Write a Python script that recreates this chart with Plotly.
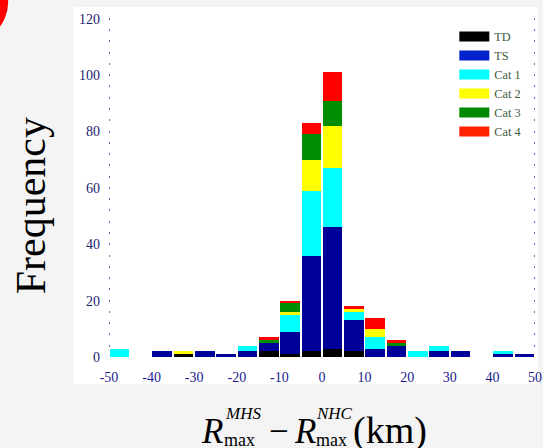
import plotly.graph_objects as go

# ---------------- data ----------------
bin_centers = [-47.5, -42.5, -37.5, -32.5, -27.5, -22.5, -17.5, -12.5, -7.5, -2.5,
               2.5, 7.5, 12.5, 17.5, 22.5, 27.5, 32.5, 37.5, 42.5, 47.5]
td   = [0, 0, 0, 1, 0, 0, 0, 2, 1, 2, 3, 2, 0, 0, 0, 0, 0, 0, 0, 0]
ts   = [0, 0, 2, 0, 2, 1, 2, 3, 8, 34, 43, 11, 3, 4, 0, 2, 2, 0, 1, 1]
cat1 = [3, 0, 0, 0, 0, 0, 2, 0, 6, 23, 21, 3, 4, 0, 2, 2, 0, 0, 1, 0]
cat2 = [0, 0, 0, 1, 0, 0, 0, 0, 1, 11, 15, 1, 3, 0, 0, 0, 0, 0, 0, 0]
cat3 = [0, 0, 0, 0, 0, 0, 0, 1, 3, 9, 9, 0, 0, 1, 0, 0, 0, 0, 0, 0]
cat4 = [0, 0, 0, 0, 0, 0, 0, 1, 1, 4, 10, 1, 4, 1, 0, 0, 0, 0, 0, 0]

series_names = ["TD", "TS", "Cat 1", "Cat 2", "Cat 3", "Cat 4"]
x_tick_vals = [-50, -40, -30, -20, -10, 0, 10, 20, 30, 40, 50]
x_tick_text = ["-50", "-40", "-30", "-20", "-10", "0", "10", "20", "30", "40", "50"]
y_tick_vals = [0, 20, 40, 60, 80, 100, 120]
y_tick_text = ["0", "20", "40", "60", "80", "100", "120"]

# ---------------- style ----------------
W, H = 543, 448
ML, MR, MT, MB = 109, 1, 16, 91
bar_colors = ["#000000", "#000099", "#00ffff", "#ffff00", "#008c00", "#ff0000"]
legend_colors = ["#000000", "#0022cc", "#00ffff", "#ffff00", "#008800", "#ff2200"]
SERIF = "Liberation Serif, Times New Roman, serif"


def px2x(px):
    return (px - ML) / (W - ML - MR)


def py2y(py):
    return (H - MB - py) / (H - MT - MB)


fig = go.Figure()
for name, vals, col in zip(series_names, [td, ts, cat1, cat2, cat3, cat4], bar_colors):
    fig.add_trace(go.Bar(x=bin_centers, y=vals, name=name, marker=dict(color=col, line=dict(width=0)),
                         width=4.6, showlegend=False))
for name, col in zip(series_names, legend_colors):
    fig.add_trace(go.Scatter(x=[None], y=[None], mode="lines", name=name,
                             line=dict(color=col, width=12)))

fig.update_layout(
    width=W, height=H,
    margin=dict(l=ML, r=MR, t=MT, b=MB, pad=0),
    paper_bgcolor="#f4f4f4", plot_bgcolor="#ffffff",
    barmode="stack",
    showlegend=True,
    legend=dict(x=px2x(460), y=py2y(22), xanchor="left", yanchor="top",
                bgcolor="rgba(0,0,0,0)", traceorder="normal", itemwidth=30,
                font=dict(family=SERIF, size=12.3, color="#3d5c3d")),
    xaxis=dict(range=[-50, 50], tickvals=x_tick_vals, ticktext=x_tick_text,
               showgrid=False, zeroline=False, showline=False, ticks="",
               ticklabelstandoff=10, ticklabeloverflow="allow",
               tickfont=dict(family=SERIF, size=14, color="#1a1a8c")),
    yaxis=dict(range=[0, 121], tickvals=y_tick_vals, ticktext=y_tick_text,
               showgrid=False, zeroline=False, showline=False,
               ticks="inside", ticklen=1, tickwidth=2, tickcolor="#6a6acc",
               mirror="allticks",
               minor=dict(dtick=4, tick0=0, ticks="inside", ticklen=1, tickwidth=2,
                          tickcolor="#6a6acc"),
               ticklabelstandoff=8,
               tickfont=dict(family=SERIF, size=14, color="#1c1c6e")),
    shapes=[
        dict(type="rect", xref="paper", yref="paper", layer="below",
             x0=px2x(73), x1=px2x(545), y0=py2y(384), y1=py2y(7),
             fillcolor="#ffffff", line=dict(width=0)),
        dict(type="circle", xref="paper", yref="paper",
             x0=px2x(-74.5), x1=px2x(6.5), y0=py2y(42.5), y1=py2y(-38.5),
             fillcolor="#ff0000", line=dict(width=0)),
    ],
)


def ann(text, px, py_center, size, xanchor="left", angle=0):
    fig.add_annotation(text=text, xref="paper", yref="paper", x=px2x(px), y=py2y(py_center),
                       xanchor=xanchor, yanchor="middle", showarrow=False, borderpad=0,
                       textangle=angle, font=dict(family=SERIF, size=size, color="#000000"))


BIG, SUB, SUP, KM = 35, 18, 17, 38
def yc(baseline, size):
    return baseline - 0.3375 * size

ann("Frequency", 30, 206, 42, xanchor="center", angle=-90)
ann("<i>R</i>", 201, yc(443, BIG), BIG)
ann("max", 225, yc(446, SUB), SUB)
ann("<i>MHS</i>", 226, yc(419, SUP), SUP)
ann("−", 282, yc(443, BIG), BIG, xanchor="center")
ann("<i>R</i>", 296, yc(443, BIG), BIG)
ann("max", 318, yc(446, SUB), SUB)
ann("<i>NHC</i>", 318, yc(419, SUP), SUP)
ann("(km)", 356, yc(443, KM), KM)

fig.write_html("out.html", config={"displayModeBar": False},
               post_script="document.body.style.margin='0';document.body.style.overflow='hidden';")
